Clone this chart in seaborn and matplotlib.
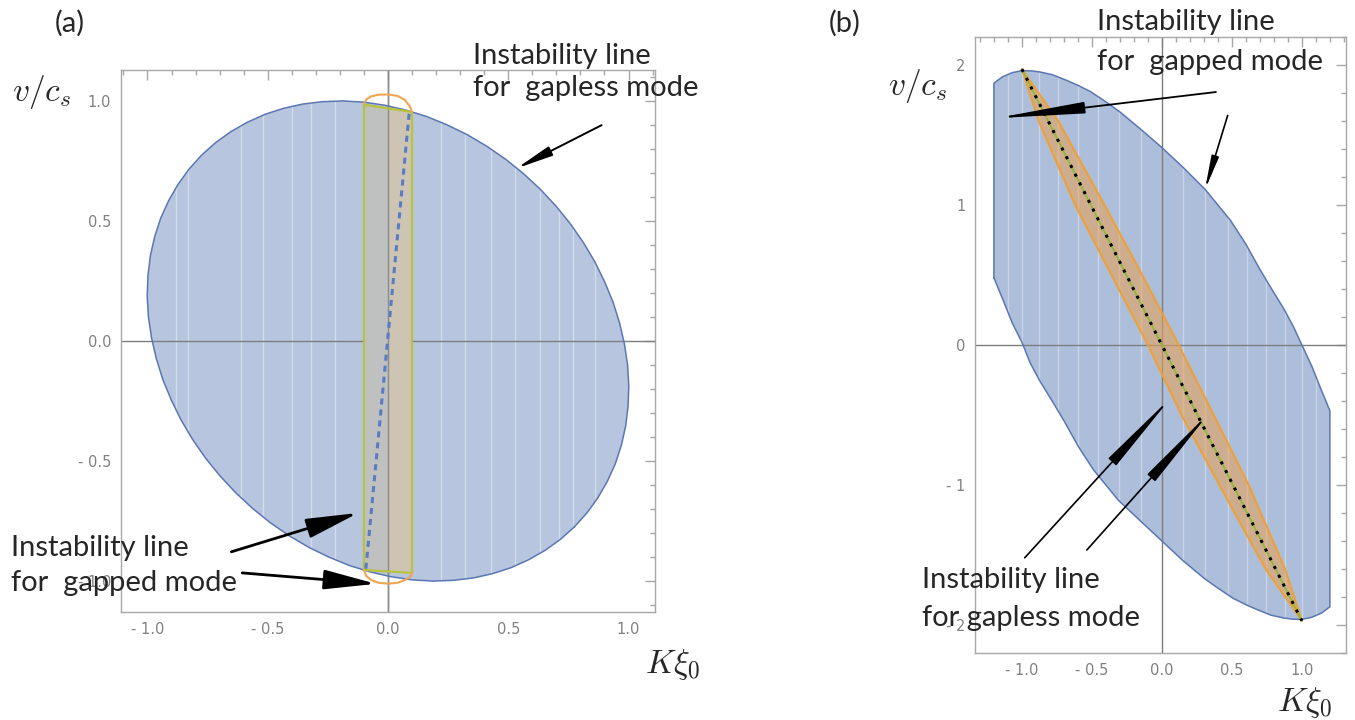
import matplotlib.pyplot as plt
import seaborn as sns
from matplotlib.ticker import MultipleLocator

# --- panel (a): unstable region, strip around K=0 and the gapless line ---
a_edge_k = [0.775, 0.827, 0.873, 0.912, 0.945, 0.970, 0.988, 0.998, 1.001, 0.996,
            0.983, 0.963, 0.936, 0.901, 0.860, 0.812, 0.758, 0.698, 0.633, 0.563,
            0.489, 0.411, 0.330, 0.246, 0.161, 0.074, -0.013, -0.100, -0.187, -0.272,
            -0.355, -0.435, -0.512, -0.585, -0.653, -0.717, -0.775, -0.827, -0.873, -0.912,
            -0.945, -0.970, -0.988, -0.998, -1.001, -0.996, -0.983, -0.963, -0.936, -0.901,
            -0.860, -0.812, -0.758, -0.698, -0.633, -0.563, -0.489, -0.411, -0.330, -0.246,
            -0.161, -0.074, 0.013, 0.100, 0.187, 0.272, 0.355, 0.435, 0.512, 0.585,
            0.653, 0.717, 0.775]
a_edge_v = [-0.775, -0.717, -0.653, -0.585, -0.512, -0.435, -0.355, -0.272, -0.187, -0.100,
            -0.013, 0.074, 0.161, 0.246, 0.330, 0.411, 0.489, 0.563, 0.633, 0.698,
            0.758, 0.812, 0.860, 0.901, 0.936, 0.963, 0.983, 0.996, 1.001, 0.998,
            0.988, 0.970, 0.945, 0.912, 0.873, 0.827, 0.775, 0.717, 0.653, 0.585,
            0.512, 0.435, 0.355, 0.272, 0.187, 0.100, 0.013, -0.074, -0.161, -0.246,
            -0.330, -0.411, -0.489, -0.563, -0.633, -0.698, -0.758, -0.812, -0.860, -0.901,
            -0.936, -0.963, -0.983, -0.996, -1.001, -0.998, -0.988, -0.970, -0.945, -0.912,
            -0.873, -0.827, -0.775]
a_strip_k = [-0.10, 0.00, 0.10, 0.10, 0.00, -0.10, -0.10]
a_strip_v = [0.985, 0.970, 0.955, -0.967, -0.961, -0.955, 0.985]
a_cap_top_k = [-0.10, -0.09, -0.07, -0.04, 0.00, 0.04, 0.07, 0.09, 0.10]
a_cap_top_v = [0.99, 1.008, 1.02, 1.027, 1.028, 1.022, 1.005, 0.98, 0.955]
a_cap_bot_k = [-0.10, -0.09, -0.07, -0.04, 0.00, 0.04, 0.07, 0.09, 0.10]
a_cap_bot_v = [-0.955, -0.98, -0.997, -1.008, -1.012, -1.008, -0.997, -0.985, -0.967]
a_gapless_k = [-0.092, 0.088]
a_gapless_v = [-0.95, 0.95]
a_streaks = [-0.88, -0.83, -0.61, -0.52, -0.40, -0.32, -0.22, 0.22, 0.32, 0.43,
             0.53, 0.63, 0.71, 0.77, 0.86]

# --- panel (b): clipped unstable region and the gapped band ---
b_edge_k = [-1.20, -1.20, -1.14, -1.07, -1.00, -0.93, -0.87, -0.78, -0.68, -0.60,
            -0.51, -0.39, -0.30, -0.15, 0.00, 0.15, 0.31, 0.49, 0.60, 0.70,
            0.79, 0.87, 0.94, 1.00, 1.07, 1.13, 1.20,
            1.20, 1.14, 1.07, 1.00, 0.93, 0.87, 0.78, 0.68, 0.60,
            0.51, 0.39, 0.30, 0.15, 0.00, -0.15, -0.31, -0.49, -0.60, -0.70,
            -0.79, -0.87, -0.94, -1.00, -1.07, -1.13, -1.20]
b_edge_v = [0.48, 1.87, 1.915, 1.945, 1.96, 1.958, 1.95, 1.93, 1.89, 1.855,
            1.81, 1.73, 1.665, 1.54, 1.41, 1.27, 1.11, 0.89, 0.72, 0.54,
            0.39, 0.26, 0.13, 0.00, -0.15, -0.30, -0.47,
            -1.87, -1.915, -1.945, -1.96, -1.958, -1.95, -1.93, -1.89, -1.855,
            -1.81, -1.73, -1.665, -1.54, -1.40, -1.26, -1.11, -0.89, -0.72, -0.54,
            -0.39, -0.26, -0.13, 0.02, 0.16, 0.31, 0.48]
b_band_k = [-1.00, -0.88, -0.62, -0.36, -0.10, 0.14, 0.41, 0.74, 1.00,
            0.88, 0.62, 0.37, 0.12, -0.14, -0.41, -0.74, -1.00]
b_band_v = [1.97, 1.60, 1.00, 0.50, 0.00, -0.50, -1.00, -1.60, -1.97,
            -1.60, -1.00, -0.50, 0.00, 0.50, 1.00, 1.60, 1.97]
b_line_k = [-1.00, 1.00]
b_line_v = [1.97, -1.97]
b_streaks = [-1.10, -1.00, -0.88, -0.74, -0.60, -0.46, -0.31, -0.15, 0.15, 0.31,
             0.47, 0.61, 0.74, 0.88, 1.00, 1.10]

ticks_k = [-1.0, -0.5, 0.0, 0.5, 1.0]
labels_k = ['- 1.0', '- 0.5', '0.0', '0.5', '1.0']
b_ticks_v = [-2, -1, 0, 1, 2]
b_labels_v = ['- 2', '- 1', '0', '1', '2']

sns.set_theme(style='white')
plt.rcParams['font.family'] = ['Lato', 'DejaVu Sans']
plt.rcParams['mathtext.fontset'] = 'cm'

W, H = 1355, 720
fig = plt.figure(figsize=(W / 100, H / 100), dpi=100)


def px(x, y):
    return x / W, 1 - y / H


def frame(ax, xlim, ylim, yticks, ylabels, yminor):
    ax.set_xlim(xlim)
    ax.set_ylim(ylim)
    ax.set_xticks(ticks_k, labels_k)
    ax.set_yticks(yticks, ylabels)
    ax.xaxis.set_minor_locator(MultipleLocator(0.1))
    ax.yaxis.set_minor_locator(MultipleLocator(yminor))
    ax.tick_params(which='both', direction='in', top=True, right=True,
                   color='#a8a8a8', labelcolor='#808080', labelsize=10.5, width=1,
                   labelfontfamily='DejaVu Sans')
    ax.tick_params(which='major', length=7, pad=7)
    ax.tick_params(which='minor', length=3.5)
    for s in ax.spines.values():
        s.set_color('#a8a8a8')
        s.set_linewidth(1)
    ax.axhline(0, color='#7d7d7d', lw=1, zorder=2)
    ax.axvline(0, color='#7d7d7d', lw=1, zorder=2)


def arrow(ax, tail, head, hl, hw, lw):
    ax.annotate('', xy=head, xytext=tail, annotation_clip=False,
                arrowprops=dict(arrowstyle=f'-|>,head_length={hl},head_width={hw}',
                                color='black', lw=lw, shrinkA=0, shrinkB=0,
                                mutation_scale=10), zorder=6)


# ---------------- panel (a) ----------------
ax = fig.add_axes([121 / W, 1 - 612 / H, 534 / W, 542 / H])
region = ax.fill(a_edge_k, a_edge_v, color='#b7c6de', lw=0, zorder=1)[0]
st = ax.vlines(a_streaks, -1.2, 1.2, colors='white', lw=1, alpha=0.4, zorder=1.5)
st.set_clip_path(region)
frame(ax, (-1.11, 1.11), (-1.13, 1.13), ticks_k, labels_k, 0.1)

ax.fill([a_strip_k[i] for i in (0, 1, 4, 5)], [a_strip_v[i] for i in (0, 1, 4, 5)],
        color='#bfc1c0', lw=0, zorder=3)
ax.fill([a_strip_k[i] for i in (1, 2, 3, 4)], [a_strip_v[i] for i in (1, 2, 3, 4)],
        color='#cdc4b4', lw=0, zorder=3)
ax.axvline(0, color='#8a8a8a', lw=1, zorder=3.5)
sns.lineplot(x=a_edge_k, y=a_edge_v, sort=False, estimator=None,
             color='#5b77b3', lw=1.1, ax=ax, zorder=4)
sns.lineplot(x=a_strip_k, y=a_strip_v, sort=False, estimator=None,
             color='#b9c23c', lw=1.6, ax=ax, zorder=4)
sns.lineplot(x=a_cap_top_k, y=a_cap_top_v, sort=False, estimator=None,
             color='#f0a450', lw=1.5, ax=ax, zorder=4)
sns.lineplot(x=a_cap_bot_k, y=a_cap_bot_v, sort=False, estimator=None,
             color='#f0a450', lw=1.5, ax=ax, zorder=4)
sns.lineplot(x=a_gapless_k, y=a_gapless_v, sort=False, estimator=None,
             color='#5a7bc2', lw=2.2, linestyle=(0, (2, 1.6)), ax=ax, zorder=5)
ax.set_xlabel('')
ax.set_ylabel('')

arrow(ax, (0.888, 0.90), (0.535, 0.72), 2.2, 0.3, 1.4)
arrow(ax, (-0.651, -0.879), (-0.124, -0.717), 3.2, 0.6, 2.0)
arrow(ax, (-0.606, -0.967), (-0.05, -1.0125), 3.2, 0.6, 2.0)

# ---------------- panel (b) ----------------
bx = fig.add_axes([975 / W, 1 - 653 / H, 371 / W, 616 / H])
region_b = bx.fill(b_edge_k, b_edge_v, color='#adbedb', lw=0, zorder=1)[0]
st = bx.vlines(b_streaks, -2.2, 2.2, colors='white', lw=1, alpha=0.35, zorder=1.5)
st.set_clip_path(region_b)
frame(bx, (-1.335, 1.315), (-2.2, 2.2), b_ticks_v, b_labels_v, 0.2)
bx.fill(b_band_k, b_band_v, color='#eba050', alpha=0.55, lw=0, zorder=3)
sns.lineplot(x=b_edge_k, y=b_edge_v, sort=False, estimator=None,
             color='#5b77b3', lw=1.1, ax=bx, zorder=4)
sns.lineplot(x=b_band_k, y=b_band_v, sort=False, estimator=None,
             color='#f0a030', lw=1.4, ax=bx, zorder=4)
sns.lineplot(x=b_line_k, y=b_line_v, sort=False, estimator=None,
             color='#8fb83a', lw=1.3, ax=bx, zorder=5)
sns.lineplot(x=b_line_k, y=b_line_v, sort=False, estimator=None,
             color='black', lw=2.2, linestyle=(0, (1, 2.2)), ax=bx, zorder=5)
bx.set_xlabel('')
bx.set_ylabel('')

arrow(bx, (0.386, 1.807), (-1.186, 1.62), 5.4, 0.35, 1.3)
arrow(bx, (0.47, 1.64), (0.307, 1.107), 2.0, 0.22, 1.2)
arrow(bx, (-0.98, -1.52), (0.07, -0.37), 5.3, 0.32, 1.2)
arrow(bx, (-0.536, -1.464), (0.343, -0.479), 5.3, 0.32, 1.2)

# ---------------- text ----------------
fs = 21
fig.text(*px(55, 23), '(a)', fontsize=fs, va='center')
fig.text(*px(829, 23), '(b)', fontsize=fs, va='center')

fig.text(*px(473, 64), 'Instability line', fontsize=fs, va='baseline')
fig.text(*px(473, 96), 'for  gapless mode', fontsize=fs, va='baseline')
fig.text(*px(11, 556), 'Instability line', fontsize=fs, va='baseline')
fig.text(*px(11, 591), 'for  gapped mode', fontsize=fs, va='baseline')
fig.text(*px(1097, 30), 'Instability line', fontsize=fs, va='baseline')
fig.text(*px(1097, 70), 'for  gapped mode', fontsize=fs, va='baseline')
fig.text(*px(922, 588), 'Instability line', fontsize=fs, va='baseline')
fig.text(*px(922, 626), 'for gapless mode', fontsize=fs, va='baseline')

fig.text(*px(12, 92), r'$v/c_s$', fontsize=24, va='center')
fig.text(*px(888, 86), r'$v/c_s$', fontsize=24, va='center')
fig.text(*px(645, 665), r'$K\xi_0$', fontsize=24, va='center')
fig.text(*px(1277, 702), r'$K\xi_0$', fontsize=24, va='center')

fig.savefig('out.png', dpi=100)
